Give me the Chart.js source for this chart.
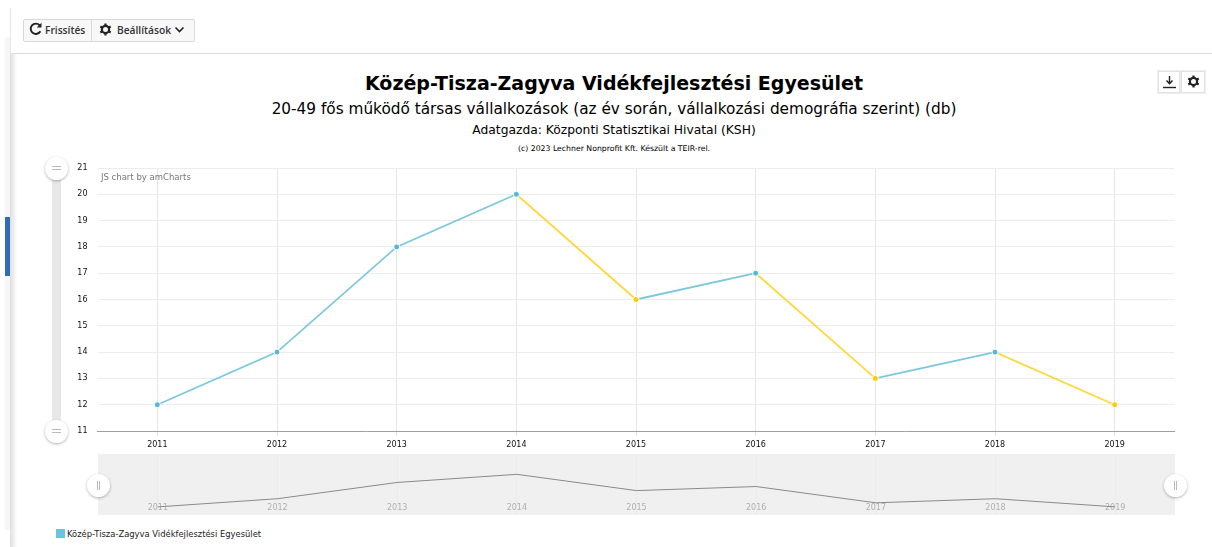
<!DOCTYPE html>
<html lang="hu">
<head>
<meta charset="utf-8">
<title>TEIR chart</title>
<script src="https://cdn.jsdelivr.net/npm/chart.js@4"></script>
<style>
  html, body { margin: 0; padding: 0; background: #fff; }
  body { width: 1212px; height: 547px; position: relative; overflow: hidden; font-family: "DejaVu Sans", sans-serif; color: #000; }
  .abs { position: absolute; }
  canvas { position: absolute; display: block; }
  .center { left: 14px; width: 1200px; text-align: center; white-space: nowrap; }
  #side { left: 5px; top: 37px; width: 5px; height: 493px; background: #f6f6f6; }
  #side-active { left: 5px; top: 217px; width: 5px; height: 59px; background: #2f6bb8; }
  #panel-line { left: 10px; top: 8px; width: 1px; height: 45px; background: #e6e6e6; }
  #top-line { left: 10px; top: 53px; width: 1202px; height: 1px; background: #dcdcdc; }
  #panel-shadow { left: 10px; top: 54px; width: 7px; height: 493px; background: linear-gradient(to right, #dedede, #fff); }
  #toolbar { left: 23px; top: 19px; width: 170px; height: 21px; border: 1px solid #d8d8d8; border-radius: 2px; background: #f8f8f8; color: #333; }
  #toolbar .sep { position: absolute; left: 67px; top: 0; width: 1px; height: 21px; background: #d8d8d8; }
  #toolbar span { position: absolute; top: 3px; font-family: "Open Sans", sans-serif; font-size: 10.2px; font-weight: 600; }
  .iconbtn { top: 71px; width: 20px; height: 20px; border: 1px solid #e2e2e2; outline: 1px solid #eeeeee; background: #fff; }
  .handle { width: 23px; height: 23px; border-radius: 50%; background: #fff; box-shadow: 0 1px 3px rgba(0,0,0,.3); z-index: 3; }
  .handle i { position: absolute; background: #bbb; }
  #scrollbar { left: 52px; top: 168px; width: 9px; height: 263px; background: #e8e8e8; }
  #credit { left: 101px; top: 172px; font-size: 8.5px; color: #777; z-index: 2; }
  #legend-box { left: 56px; top: 529px; width: 9px; height: 9px; background: #6cc3de; }
  #legend-text { left: 67px; top: 529px; font-size: 8.4px; color: #222; white-space: nowrap; }
</style>
</head>
<body>
<div class="abs" id="side"></div>
<div class="abs" id="side-active"></div>
<div class="abs" id="panel-line"></div>
<div class="abs" id="top-line"></div>
<div class="abs" id="panel-shadow"></div>

<div class="abs" id="toolbar">
  <svg class="abs" style="left:5px;top:2px" width="14" height="14" viewBox="0 0 13 13"><path d="M10.6 8.6A4.8 4.8 0 1 1 9.9 3" fill="none" stroke="#222" stroke-width="1.8"/><path d="M11.6 0.8v4.4H7.2z" fill="#222"/></svg>
  <span style="left:21px">Frissítés</span>
  <div class="sep"></div>
  <svg class="abs" style="left:75px;top:3px" width="13" height="13" viewBox="0 0 13 13"><circle cx="6.5" cy="6.5" r="3.6" fill="none" stroke="#222" stroke-width="2.2"/><path d="M6.5 0.5v2.4M6.5 10.1v2.4M1.3 3.5l2.1 1.2M9.6 8.3l2.1 1.2M1.3 9.5l2.1-1.2M9.6 4.7l2.1-1.2" stroke="#222" stroke-width="2.2"/></svg>
  <span style="left:93px">Beállítások</span>
  <svg class="abs" style="left:150px;top:6px" width="11" height="8" viewBox="0 0 11 8"><path d="M1.5 1.5l4 4 4-4" fill="none" stroke="#222" stroke-width="1.6"/></svg>
</div>

<div class="abs center" style="top:72px;font-size:19px;font-weight:bold">Közép-Tisza-Zagyva Vidékfejlesztési Egyesület</div>
<div class="abs center" style="top:100px;font-size:15.3px">20-49 fős működő társas vállalkozások (az év során, vállalkozási demográfia szerint) (db)</div>
<div class="abs center" style="top:123px;font-size:12.3px">Adatgazda: Központi Statisztikai Hivatal (KSH)</div>
<div class="abs center" style="top:144px;font-size:7.75px">(c) 2023 Lechner Nonprofit Kft. Készült a TEIR-rel.</div>

<div class="abs iconbtn" style="left:1158px">
  <svg class="abs" style="left:3px;top:3px" width="15" height="14" viewBox="0 0 15 14"><path d="M7.5 1v7M4.5 5.5l3 3.2 3-3.2" fill="none" stroke="#222" stroke-width="1.4"/><path d="M1 12.5h13" stroke="#222" stroke-width="1.4"/></svg>
</div>
<div class="abs iconbtn" style="left:1181px;width:22px">
  <svg class="abs" style="left:5px;top:3px" width="13" height="13" viewBox="0 0 13 13"><circle cx="6.5" cy="6.5" r="3.6" fill="none" stroke="#222" stroke-width="2.2"/><path d="M6.5 0.5v2.4M6.5 10.1v2.4M1.3 3.5l2.1 1.2M9.6 8.3l2.1 1.2M1.3 9.5l2.1-1.2M9.6 4.7l2.1-1.2" stroke="#222" stroke-width="2.2"/></svg>
</div>

<div class="abs" id="scrollbar"></div>
<div class="abs handle" style="left:45px;top:157px"><i style="left:7px;top:9px;width:9px;height:1px"></i><i style="left:7px;top:12px;width:9px;height:1px"></i></div>
<div class="abs handle" style="left:45px;top:420px"><i style="left:7px;top:9px;width:9px;height:1px"></i><i style="left:7px;top:12px;width:9px;height:1px"></i></div>
<div class="abs handle" style="left:87px;top:474px"><i style="left:10px;top:7px;width:1px;height:9px"></i><i style="left:12px;top:7px;width:1px;height:9px"></i></div>
<div class="abs handle" style="left:1164px;top:474px"><i style="left:10px;top:7px;width:1px;height:9px"></i><i style="left:12px;top:7px;width:1px;height:9px"></i></div>

<div class="abs" id="credit">JS chart by amCharts</div>
<canvas id="main-canvas" style="left:0;top:160px"></canvas>
<canvas id="nav-canvas" style="left:98px;top:454px;background:#f0f0f0"></canvas>

<div class="abs" id="legend-box"></div>
<div class="abs" id="legend-text">Közép-Tisza-Zagyva Vidékfejlesztési Egyesület</div>

<script>
const years = ["2011", "2012", "2013", "2014", "2015", "2016", "2017", "2018", "2019"];
const enterprises = [12, 14, 18, 20, 16, 17, 13, 14, 12];
const series_name = "Közép-Tisza-Zagyva Vidékfejlesztési Egyesület";
const y_min = 11;
const y_max = 21;

const blue_line = "#7cc8de";
const blue_point = "#56b9da";
const yellow_line = "#ffd83d";
const yellow_point = "#ffcc00";
const font_family = "'DejaVu Sans', sans-serif";

function point_color(ctx) {
  const i = ctx.dataIndex;
  if (i > 0 && enterprises[i] < enterprises[i - 1]) {
    return yellow_point;
  }
  return blue_point;
}

function draw_main_chart() {
  const canvas = document.querySelector("#main-canvas");
  canvas.width = 1212;
  canvas.height = 301;
  new Chart(canvas, {
    type: "line",
    data: {
      labels: years,
      datasets: [{
        label: series_name,
        data: enterprises,
        borderWidth: 1.8,
        borderColor: blue_line,
        tension: 0,
        pointRadius: 3,
        pointBorderWidth: 1,
        pointBorderColor: "#ffffff",
        pointBackgroundColor: point_color,
        segment: {
          borderColor: (ctx) => ctx.p1.parsed.y < ctx.p0.parsed.y ? yellow_line : blue_line,
        },
      }],
    },
    options: {
      responsive: false,
      animation: false,
      layout: { autoPadding: false, padding: { left: 57.5, right: 37.5, top: 8, bottom: 0 } },
      plugins: { legend: { display: false }, tooltip: { enabled: false } },
      scales: {
        x: {
          offset: true,
          afterFit: (scale) => { scale.height = 30; },
          border: { color: "#a0a0a0" },
          grid: { offset: false, color: "#e6e6e6", tickLength: 5 },
          ticks: { color: "#111", padding: 4, maxRotation: 0, font: { family: font_family, size: 8 } },
        },
        y: {
          min: y_min,
          max: y_max,
          afterFit: (scale) => { scale.width = 40; },
          border: { display: false },
          // ticks.padding also eats into the plot height, so the gap comes from a hidden tick
          grid: { color: "#ececec", tickLength: 7, tickColor: "transparent" },
          ticks: { stepSize: 1, color: "#111", padding: 3, font: { family: font_family, size: 8 } },
        },
      },
    },
  });
}

function draw_navigator() {
  const canvas = document.querySelector("#nav-canvas");
  canvas.width = 1077;
  canvas.height = 61;
  new Chart(canvas, {
    type: "line",
    data: {
      labels: years,
      datasets: [{
        data: enterprises,
        borderWidth: 1,
        borderColor: "#8a8a8a",
        pointRadius: 0,
        tension: 0,
      }],
    },
    options: {
      responsive: false,
      animation: false,
      layout: { autoPadding: false },
      plugins: { legend: { display: false }, tooltip: { enabled: false } },
      scales: {
        x: {
          offset: true,
          afterFit: (scale) => { scale.height = 0; },
          border: { display: false },
          grid: { offset: false, color: "#ebebeb", tickLength: 0 },
          ticks: { mirror: true, color: "#b0b0b0", padding: 2, maxRotation: 0, font: { family: font_family, size: 8 } },
        },
        y: {
          display: false,
          min: 10,
          max: 25,
        },
      },
    },
  });
}

draw_main_chart();
draw_navigator();
</script>
</body>
</html>
